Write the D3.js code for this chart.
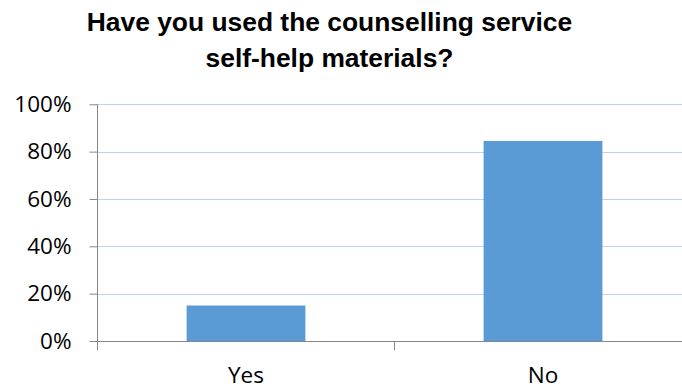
<!DOCTYPE html>
<html>
<head>
<meta charset="utf-8">
<script src="https://cdn.jsdelivr.net/npm/d3@7"></script>
<style>
  html, body { margin: 0; padding: 0; background: #fff; }
  svg { display: block; }
</style>
</head>
<body>
<svg id="chart" width="682" height="387"></svg>
<script>
// Survey answers and their shares
const categories = ["Yes", "No"];
const shares = [0.15, 0.845];
const yTickValues = [0, 0.2, 0.4, 0.6, 0.8, 1.0];
const titleLines = ["Have you used the counselling service", "self-help materials?"];

const svg = d3.select("#chart");
const plot = { left: 97.5, top: 104.3, bottom: 341, right: 691.5 };

const x = d3.scaleBand()
  .domain(categories)
  .range([plot.left, plot.right])
  .paddingInner(0.6)
  .paddingOuter(0.3);

const y = d3.scaleLinear().domain([0, 1]).range([plot.bottom, plot.top]);

// Title
const title = svg.append("text")
  .attr("text-anchor", "middle")
  .attr("font-family", "Liberation Sans, Arial, sans-serif")
  .attr("font-weight", "bold")
  .attr("font-size", 26.4)
  .attr("fill", "#000");
titleLines.forEach((t, i) => {
  title.append("tspan").attr("x", 329.5).attr("y", 30.5 + i * 36).text(t);
});

// Horizontal gridlines
svg.append("g")
  .selectAll("line")
  .data(yTickValues.filter(v => v > 0))
  .join("line")
  .attr("x1", plot.left)
  .attr("x2", plot.right)
  .attr("y1", d => Math.round(y(d)) + 0.5)
  .attr("y2", d => Math.round(y(d)) + 0.5)
  .attr("stroke", "#bcd3f0")
  .attr("stroke-width", 1);

// Bars
svg.append("g")
  .selectAll("rect")
  .data(categories.map((c, i) => ({ c, v: shares[i] })))
  .join("rect")
  .attr("x", d => x(d.c))
  .attr("width", x.bandwidth())
  .attr("y", d => y(d.v))
  .attr("height", d => y(0) - y(d.v))
  .attr("fill", "#5b9bd5");

// Y axis
const yAxis = svg.append("g")
  .attr("transform", `translate(${plot.left},0)`)
  .call(d3.axisLeft(y)
    .tickValues(yTickValues)
    .tickFormat(d3.format(".0%"))
    .tickSize(8)
    .tickPadding(18));
yAxis.select(".domain").remove();
yAxis.selectAll(".tick line").attr("stroke", "#868686");
yAxis.selectAll(".tick text")
  .attr("font-family", "Open Sans, sans-serif")
  .attr("font-size", 22.5)
  .attr("fill", "#000");
yAxis.append("line")
  .attr("x1", 0).attr("x2", 0)
  .attr("y1", plot.top).attr("y2", plot.bottom + 9)
  .attr("stroke", "#868686");

// X axis: baseline, category boundary ticks and labels
const xAxis = svg.append("g")
  .attr("transform", `translate(0,${plot.bottom})`)
  .call(d3.axisBottom(x).tickSize(0).tickPadding(26));
xAxis.select(".domain").attr("stroke", "#868686");
xAxis.selectAll(".tick text")
  .attr("font-family", "Open Sans, sans-serif")
  .attr("font-size", 22.5)
  .attr("fill", "#000");
const boundaries = d3.range(categories.length + 1).map(i => plot.left + i * x.step());
xAxis.selectAll(".bound")
  .data(boundaries)
  .join("line")
  .attr("class", "bound")
  .attr("x1", d => d).attr("x2", d => d)
  .attr("y1", 0).attr("y2", 9)
  .attr("stroke", "#868686");
</script>
</body>
</html>
